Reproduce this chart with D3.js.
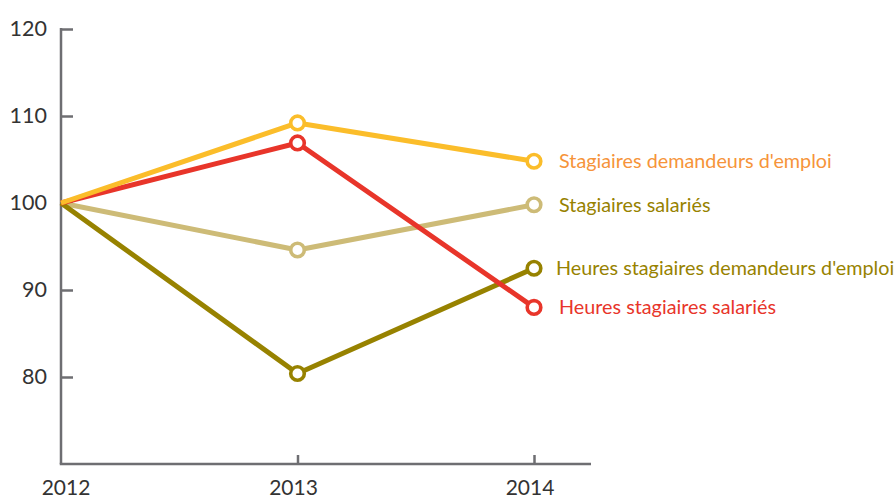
<!DOCTYPE html>
<html>
<head>
<meta charset="utf-8">
<script src="https://cdn.jsdelivr.net/npm/d3@7"></script>
<style>
  body { margin: 0; background: #fff; }
  #chart text { font-family: Lato, "Noto Sans", sans-serif; }
</style>
</head>
<body>
<div id="chart"></div>
<script>
const years = ['2012', '2013', '2014']
const yTicks = [80, 90, 100, 110, 120]

const seriesNames = [
  'Stagiaires demandeurs d\'emploi',
  'Stagiaires salariés',
  'Heures stagiaires demandeurs d\'emploi',
  'Heures stagiaires salariés',
]
const stagiairesDemandeurs = [100, 109.2, 104.8]
const stagiairesSalaries = [100, 94.6, 99.8]
const heuresDemandeurs = [100, 80.4, 92.5]
const heuresSalaries = [100, 106.9, 88.0]

const lineColors = ['#fbbd2a', '#cdbb77', '#978200', '#e8352a']
const labelColors = ['#f6943a', '#978200', '#978200', '#e8352a']

const width = 896
const height = 500
const margin = { left: 61, top: 29, right: 305, bottom: 36 }

const svg = d3
  .select('#chart')
  .append('svg')
  .attr('width', width)
  .attr('height', height)

const xScale = d3
  .scalePoint()
  .domain(years)
  .range([margin.left, 534])

const yScale = d3
  .scaleLinear()
  .domain([70, 120])
  .range([height - margin.bottom, margin.top])

const axisColor = '#6e6e72'

// y axis
const yAxis = svg
  .append('g')
  .attr('transform', `translate(${margin.left}, 0)`)
  .call(d3.axisRight(yScale).tickValues(yTicks).tickSize(12).tickFormat(''))
yAxis.select('.domain').remove()
yAxis.selectAll('.tick line').attr('stroke', axisColor).attr('stroke-width', 2.5)

svg
  .append('line')
  .attr('x1', margin.left)
  .attr('x2', margin.left)
  .attr('y1', yScale(120) - 1)
  .attr('y2', yScale(70))
  .attr('stroke', axisColor)
  .attr('stroke-width', 2.5)

yTicks.forEach(t => {
  svg
    .append('text')
    .attr('x', 47)
    .attr('y', yScale(t))
    .attr('dy', '0.33em')
    .attr('text-anchor', 'end')
    .attr('font-size', 21.5)
    .attr('fill', '#333')
    .text(t)
})

// x axis
const xAxis = svg
  .append('g')
  .attr('transform', `translate(0, ${yScale(70)})`)
  .call(d3.axisTop(xScale).tickSize(9).tickFormat(''))
xAxis.select('.domain').remove()
xAxis.selectAll('.tick line').attr('stroke', axisColor).attr('stroke-width', 2.5)
xAxis.selectAll('.tick').filter(d => d === years[0]).remove()

svg
  .append('line')
  .attr('x1', margin.left - 1.25)
  .attr('x2', 591)
  .attr('y1', yScale(70))
  .attr('y2', yScale(70))
  .attr('stroke', axisColor)
  .attr('stroke-width', 2.5)

const xLabelShift = [5, -4, -4]
years.forEach((yr, i) => {
  svg
    .append('text')
    .attr('x', xScale(yr) + xLabelShift[i])
    .attr('y', 495)
    .attr('text-anchor', 'middle')
    .attr('font-size', 21)
    .attr('fill', '#333')
    .text(yr)
})

// series
const allSeries = [
  stagiairesDemandeurs,
  stagiairesSalaries,
  heuresDemandeurs,
  heuresSalaries,
]
const drawOrder = [1, 2, 3, 0]

const line = d3
  .line()
  .x((_, i) => xScale(years[i]))
  .y(d => yScale(d))

drawOrder.forEach(s => {
  svg
    .append('path')
    .datum(allSeries[s])
    .attr('fill', 'none')
    .attr('stroke', lineColors[s])
    .attr('stroke-width', 5)
    .attr('stroke-linejoin', 'round')
    .attr('d', line)
})

drawOrder.forEach(s => {
  allSeries[s].forEach((v, i) => {
    if (i === 0) return
    svg
      .append('circle')
      .attr('cx', xScale(years[i]))
      .attr('cy', yScale(v))
      .attr('r', 6.8)
      .attr('fill', '#fff')
      .attr('stroke', lineColors[s])
      .attr('stroke-width', 3.6)
  })
})

// labels at the end
const labelX = [559, 559, 556, 559]
seriesNames.forEach((name, s) => {
  const last = allSeries[s][allSeries[s].length - 1]
  svg
    .append('text')
    .attr('x', labelX[s])
    .attr('y', yScale(last))
    .attr('dy', '0.35em')
    .attr('font-size', 19.8)
    .attr('fill', labelColors[s])
    .text(name)
})
</script>
</body>
</html>
